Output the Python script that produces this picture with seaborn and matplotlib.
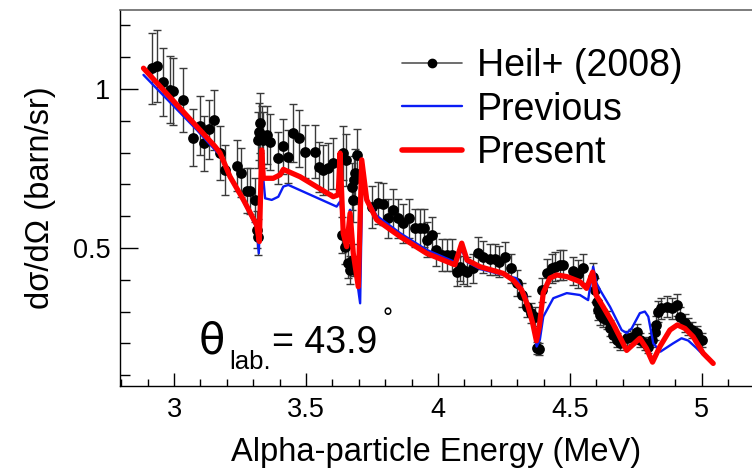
import numpy as np
import pandas as pd
import matplotlib
matplotlib.use("Agg")
import matplotlib.pyplot as plt
from matplotlib.lines import Line2D
from matplotlib.ticker import MultipleLocator
import seaborn as sns

# ---- data: Heil+ (2008) ----
heil_x = [2.916, 2.937, 2.957, 2.985, 2.994, 3.035, 3.071, 3.098, 3.115, 3.134,
          3.153, 3.174, 3.193, 3.238, 3.253, 3.275, 3.288, 3.307, 3.313, 3.319,
          3.319, 3.323, 3.326, 3.332, 3.338, 3.351, 3.364, 3.395, 3.414, 3.433,
          3.452, 3.475, 3.496, 3.534, 3.549, 3.566, 3.585, 3.603, 3.641, 3.652,
          3.636, 3.648, 3.660, 3.667, 3.673, 3.677, 3.679, 3.682, 3.686, 3.692,
          3.749, 3.774, 3.793, 3.812, 3.831, 3.850, 3.869, 3.891, 3.913, 3.932,
          3.947, 3.957, 3.976, 3.994, 4.014, 4.033, 4.052, 4.071, 4.083, 4.094,
          4.111, 4.134, 4.153, 4.172, 4.197, 4.216, 4.232, 4.254, 4.275, 4.298,
          4.317, 4.336, 4.351, 4.367, 4.374, 4.384, 4.393, 4.412, 4.431, 4.443,
          4.462, 4.475, 4.513, 4.531, 4.550, 4.588, 4.595, 4.601, 4.607, 4.614,
          4.626, 4.639, 4.652, 4.664, 4.677, 4.689, 4.715, 4.734, 4.753, 4.765,
          4.784, 4.797, 4.810, 4.822, 4.828, 4.835, 4.847, 4.866, 4.885, 4.904,
          4.917, 4.936, 4.949, 4.961, 4.980, 4.999]
heil_y = [1.065, 1.072, 1.023, 0.997, 0.992, 0.965, 0.847, 0.884, 0.829, 0.873,
          0.903, 0.798, 0.745, 0.758, 0.737, 0.680, 0.679, 0.651, 0.557, 0.535,
          0.840, 0.866, 0.892, 0.855, 0.840, 0.855, 0.834, 0.783, 0.819, 0.787,
          0.861, 0.845, 0.803, 0.803, 0.755, 0.745, 0.751, 0.766, 0.798, 0.777,
          0.541, 0.504, 0.452, 0.431, 0.693, 0.651, 0.462, 0.714, 0.735, 0.792,
          0.630, 0.641, 0.638, 0.593, 0.620, 0.593, 0.578, 0.593, 0.562, 0.562,
          0.562, 0.525, 0.541, 0.494, 0.478, 0.478, 0.478, 0.425, 0.441, 0.431,
          0.425, 0.436, 0.484, 0.472, 0.464, 0.464, 0.457, 0.471, 0.436, 0.389,
          0.352, 0.315, 0.295, 0.284, 0.185, 0.181, 0.368, 0.420, 0.436, 0.441,
          0.447, 0.447, 0.428, 0.418, 0.436, 0.410, 0.368, 0.331, 0.305, 0.289,
          0.279, 0.274, 0.248, 0.227, 0.211, 0.200, 0.216, 0.221, 0.237, 0.211,
          0.200, 0.190, 0.211, 0.237, 0.258, 0.300, 0.310, 0.315, 0.310, 0.321,
          0.284, 0.263, 0.253, 0.242, 0.232, 0.211]
heil_err = [0.112, 0.113, 0.107, 0.105, 0.104, 0.101, 0.089, 0.093, 0.087, 0.092,
            0.095, 0.084, 0.078, 0.080, 0.077, 0.071, 0.071, 0.068, 0.058, 0.056,
            0.088, 0.091, 0.094, 0.090, 0.088, 0.090, 0.088, 0.082, 0.086, 0.083,
            0.090, 0.089, 0.084, 0.084, 0.079, 0.078, 0.079, 0.080, 0.084, 0.082,
            0.057, 0.053, 0.047, 0.045, 0.073, 0.068, 0.049, 0.075, 0.077, 0.083,
            0.066, 0.067, 0.067, 0.062, 0.065, 0.062, 0.061, 0.062, 0.059, 0.059,
            0.059, 0.055, 0.057, 0.052, 0.050, 0.050, 0.050, 0.045, 0.046, 0.045,
            0.045, 0.046, 0.051, 0.050, 0.049, 0.049, 0.048, 0.049, 0.046, 0.041,
            0.037, 0.033, 0.031, 0.030, 0.019, 0.019, 0.039, 0.044, 0.046, 0.046,
            0.047, 0.047, 0.045, 0.044, 0.046, 0.043, 0.039, 0.035, 0.032, 0.030,
            0.029, 0.029, 0.026, 0.024, 0.022, 0.021, 0.023, 0.023, 0.025, 0.022,
            0.021, 0.020, 0.022, 0.025, 0.027, 0.032, 0.033, 0.033, 0.033, 0.034,
            0.030, 0.028, 0.027, 0.025, 0.024, 0.022]

# ---- Previous calculation ----
prev_x = [2.884, 3.086, 3.155, 3.174, 3.212, 3.263, 3.313, 3.321, 3.332, 3.345,
          3.370, 3.395, 3.414, 3.433, 3.616, 3.629, 3.641, 3.654, 3.667, 3.679,
          3.693, 3.705, 3.714, 3.730, 3.768, 3.856, 3.957, 4.064, 4.090, 4.110,
          4.159, 4.247, 4.297, 4.334, 4.361, 4.374, 4.386, 4.399, 4.437, 4.488,
          4.538, 4.569, 4.588, 4.601, 4.614, 4.652, 4.696, 4.715, 4.734, 4.765,
          4.784, 4.797, 4.816, 4.843, 4.891, 4.923, 4.948, 4.980, 5.018, 5.043]
prev_y = [1.044, 0.871, 0.808, 0.792, 0.720, 0.645, 0.563, 0.483, 0.771, 0.656,
          0.651, 0.661, 0.693, 0.698, 0.630, 0.646, 0.572, 0.509, 0.620, 0.494,
          0.399, 0.326, 0.761, 0.657, 0.601, 0.547, 0.494, 0.456, 0.494, 0.456,
          0.434, 0.415, 0.405, 0.347, 0.252, 0.190, 0.211, 0.284, 0.342, 0.358,
          0.352, 0.336, 0.441, 0.389, 0.368, 0.315, 0.242, 0.232, 0.247, 0.295,
          0.300, 0.284, 0.200, 0.174, 0.200, 0.216, 0.209, 0.185, 0.153, 0.137]

# ---- Present calculation ----
pres_x = [2.884, 3.155, 3.174, 3.212, 3.263, 3.313, 3.323, 3.332, 3.338, 3.376,
          3.402, 3.414, 3.477, 3.603, 3.622, 3.629, 3.641, 3.654, 3.667, 3.679,
          3.698, 3.711, 3.730, 3.768, 3.856, 3.957, 4.064, 4.090, 4.110, 4.159,
          4.247, 4.285, 4.317, 4.342, 4.359, 4.373, 4.384, 4.399, 4.424, 4.450,
          4.488, 4.538, 4.563, 4.586, 4.599, 4.626, 4.664, 4.715, 4.765, 4.790,
          4.813, 4.841, 4.879, 4.907, 4.936, 4.967, 5.005, 5.043]
pres_y = [1.065, 0.819, 0.799, 0.724, 0.651, 0.572, 0.520, 0.808, 0.719, 0.719,
          0.730, 0.747, 0.724, 0.661, 0.667, 0.798, 0.546, 0.504, 0.609, 0.483,
          0.378, 0.777, 0.651, 0.588, 0.536, 0.483, 0.447, 0.515, 0.462, 0.441,
          0.420, 0.399, 0.368, 0.315, 0.263, 0.208, 0.253, 0.359, 0.405, 0.415,
          0.410, 0.394, 0.373, 0.424, 0.352, 0.315, 0.261, 0.178, 0.216, 0.184,
          0.141, 0.190, 0.242, 0.258, 0.247, 0.221, 0.169, 0.137]

x_major = [3, 3.5, 4, 4.5, 5]
y_major = [0.5, 1]

sns.set_style("ticks")
plt.rcParams['font.family'] = ['Liberation Sans', 'DejaVu Sans']
plt.rcParams['text.color'] = 'black'
plt.rcParams['axes.labelcolor'] = 'black'
plt.rcParams['xtick.color'] = 'black'
plt.rcParams['ytick.color'] = 'black'

W, H = 752, 470
fig = plt.figure(figsize=(W / 100, H / 100), dpi=100)
ax = fig.add_axes([120 / W, 1 - 386 / H, (W - 120) / W, (386 - 10) / H])

heil = pd.DataFrame({"E": heil_x, "xs": heil_y, "err": heil_err})
prev = pd.DataFrame({"E": prev_x, "xs": prev_y})
pres = pd.DataFrame({"E": pres_x, "xs": pres_y})

ax.errorbar(heil["E"], heil["xs"], yerr=heil["err"], fmt="none",
            ecolor="#3a3a3a", elinewidth=1.0, capsize=3, capthick=1.0, zorder=2)
sns.scatterplot(data=heil, x="E", y="xs", ax=ax, color="black", s=60,
                edgecolor="black", linewidth=0, zorder=3, legend=False)
sns.lineplot(data=prev, x="E", y="xs", ax=ax, color="#0a1cf5", lw=1.7,
             sort=False, estimator=None, zorder=4, legend=False)
sns.lineplot(data=pres, x="E", y="xs", ax=ax, color="#ff0000", lw=3.8,
             sort=False, estimator=None, zorder=5, legend=False)

ax.set_xlim(2.795, 5.19)
ax.set_ylim(0.066, 1.248)
ax.set_xticks(x_major)
ax.set_xticklabels(["3", "3.5", "4", "4.5", "5"])
ax.set_yticks(y_major)
ax.set_yticklabels(["0.5", "1"])
ax.xaxis.set_minor_locator(MultipleLocator(0.1))
ax.yaxis.set_minor_locator(MultipleLocator(0.1))
ax.tick_params(axis="x", which="major", direction="in", length=9.5, width=1,
               labelsize=19.5, pad=8, color="black", labelcolor="black")
ax.tick_params(axis="x", which="minor", direction="in", length=5, width=1, color="black")
ax.tick_params(axis="y", which="major", direction="in", length=13, width=1,
               labelsize=19.5, pad=7, color="black", labelcolor="black")
ax.tick_params(axis="y", which="minor", direction="in", length=7, width=1, color="black")

for s in ["left", "bottom"]:
    ax.spines[s].set_color("black")
    ax.spines[s].set_linewidth(1.0)
ax.spines["top"].set_color("#666666")
ax.spines["top"].set_linewidth(1.2)
ax.spines["right"].set_visible(False)

ax.set_xlabel("Alpha-particle Energy (MeV)", fontsize=23.5, labelpad=10, color="black")
ax.set_ylabel("dσ/dΩ (barn/sr)", fontsize=23.5, labelpad=12, color="black")

handles = [
    Line2D([0], [0], color="#555555", lw=1.2, marker="o", markersize=6,
           markerfacecolor="black", markeredgecolor="black"),
    Line2D([0], [0], color="#0a1cf5", lw=1.7),
    Line2D([0], [0], color="#ff0000", lw=4.0),
]
leg = ax.legend(handles, ["Heil+ (2008)", "Previous", "Present"],
                loc="upper left", bbox_to_anchor=(402 / W, 1 - 48 / H),
                bbox_transform=fig.transFigure, frameon=False, fontsize=27,
                handlelength=1.6, handletextpad=0.4, labelspacing=0.2,
                borderpad=0, borderaxespad=0)
for t in leg.get_texts():
    t.set_color("black")

# theta annotation
fig.text(199 / W, 1 - 353 / H, "θ", fontsize=31, va="baseline", ha="left",
         family=["DejaVu Sans"])
fig.text(229 / W, 1 - 369 / H, "lab.", fontsize=18.5, va="baseline", ha="left")
fig.text(272 / W, 1 - 353 / H, "= 43.9", fontsize=27, va="baseline", ha="left")
fig.text(383 / W, 1 - 326 / H, "°", fontsize=18, va="baseline", ha="left")

fig.savefig("out.png", dpi=100)
